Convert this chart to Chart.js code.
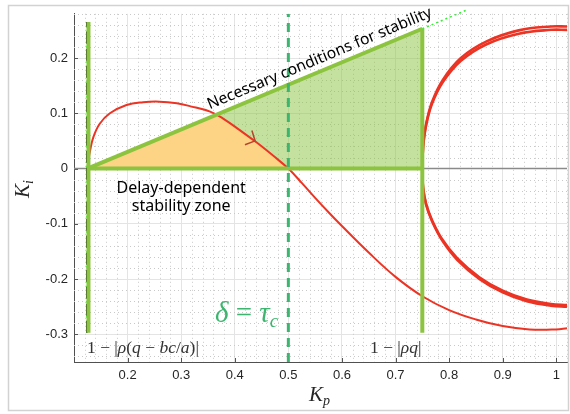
<!DOCTYPE html>
<html>
<head>
<meta charset="utf-8">
<script src="https://cdn.jsdelivr.net/npm/chart.js@4.4.1/dist/chart.umd.min.js"></script>
<style>
  html, body { margin: 0; padding: 0; background: #fff; }
  #wrap { width: 570px; height: 414px; position: relative; }
</style>
</head>
<body>
<div id="wrap"><canvas id="chart"></canvas></div>
<script>
// tick labels
const xTicks = [0.2, 0.3, 0.4, 0.5, 0.6, 0.7, 0.8, 0.9, 1];
const yTicks = [-0.3, -0.2, -0.1, 0, 0.1, 0.2];

// thin red curve (delay-dependent boundary)
const redThinX = [0.125, 0.127, 0.13, 0.136, 0.148, 0.167, 0.198, 0.229, 0.26, 0.292, 0.316, 0.354, 0.379, 0.41, 0.441, 0.472, 0.5, 0.525, 0.55, 0.575, 0.6, 0.65, 0.7, 0.75, 0.8, 0.85, 0.9, 0.95, 1.0, 1.02];
const redThinY = [0, 0.015, 0.032, 0.0565, 0.081, 0.1, 0.115, 0.12, 0.121, 0.118, 0.113, 0.103, 0.09, 0.069, 0.047, 0.023, 0, -0.026, -0.053, -0.079, -0.104, -0.152, -0.196, -0.231, -0.256, -0.273, -0.285, -0.291, -0.291, -0.289];

// thick red loop, drawn as two close strands
const loopUpperX = [0.75, 0.7515, 0.757, 0.768, 0.788, 0.822, 0.87, 0.93, 0.99, 1.02];
const loopUpperY1 = [0, 0.04, 0.08, 0.12, 0.16, 0.2, 0.23, 0.25, 0.257, 0.257];
const loopUpperY2 = [0, 0.039, 0.078, 0.117, 0.156, 0.195, 0.225, 0.244, 0.251, 0.251];
const loopLowerX = [0.75, 0.7515, 0.757, 0.768, 0.787, 0.815, 0.857, 0.9, 0.945, 0.99, 1.02];
const loopLowerY1 = [0, -0.035, -0.065, -0.095, -0.13, -0.165, -0.2, -0.224, -0.24, -0.248, -0.25];
const loopLowerY2 = [0, -0.035, -0.064, -0.093, -0.128, -0.162, -0.197, -0.221, -0.237, -0.245, -0.247];

// small direction arrow on the thin curve
const arrowX = [0.432, 0.438, 0.419];
const arrowY = [0.069, 0.05, 0.043];

// necessary-condition triangle
const slopeX = [0.125, 0.75];
const slopeY = [0, 0.253];
const baseX = [0.125, 0.75];
const baseY = [0, 0];
const slopeExtX = [0.75, 0.836];
const slopeExtY = [0.253, 0.288];

// vertical bounds
const leftX = 0.127, leftBlackX = 0.124;
const rightX = 0.75;
const vertY = [-0.297, 0.265];
const rightVertY = [-0.297, 0.253];
const tauX = 0.5;

const xMin = 0.1, xMax = 1.02, yMin = -0.35, yMax = 0.28;

const pts = (xs, ys) => xs.map((x, i) => ({ x, y: ys[i] }));
const loop = (lx, ly, ux, uy) => pts(lx, ly).slice(1).reverse().concat(pts(ux, uy));

// orange zone: under both the slope line and the red curve
const slopeAt = x => slopeY[0] + (slopeY[1] - slopeY[0]) * (x - slopeX[0]) / (slopeX[1] - slopeX[0]);
const orange = [{ x: slopeX[0], y: 0 }];
for (let i = 1; i < redThinX.length && redThinX[i] <= tauX; i++) {
  const d0 = redThinY[i - 1] - slopeAt(redThinX[i - 1]);
  const d1 = redThinY[i] - slopeAt(redThinX[i]);
  if (d0 > 0 && d1 <= 0) {
    const t = d0 / (d0 - d1);
    const ix = redThinX[i - 1] + t * (redThinX[i] - redThinX[i - 1]);
    orange.push({ x: ix, y: slopeAt(ix) });
  }
  if (d1 <= 0) orange.push({ x: redThinX[i], y: redThinY[i] });
}

const GREEN = '#8cc43f';
const RED = '#ec3424';
const TAU_GREEN = '#3cb56e';

const line = (data, opts) => Object.assign({
  data, showLine: true, pointRadius: 0, pointHoverRadius: 0, fill: false, tension: 0
}, opts);

const datasets = [
  line(pts(slopeX, slopeY), { borderColor: 'transparent', fill: 'origin', backgroundColor: 'rgba(140,196,63,0.5)', order: 20 }),
  line(orange, { borderColor: 'transparent', fill: 'origin', backgroundColor: '#fdd485', order: 19 }),
  line(pts([xMin, xMax], [0, 0]), { borderColor: '#8a8a8a', borderWidth: 1.5, order: 18 }),
  line(pts(redThinX, redThinY), { borderColor: RED, borderWidth: 2, tension: 0.4, order: 15 }),
  line(loop(loopLowerX, loopLowerY1, loopUpperX, loopUpperY1), { borderColor: RED, borderWidth: 2.6, tension: 0.4, order: 14 }),
  line(loop(loopLowerX, loopLowerY2, loopUpperX, loopUpperY2), { borderColor: RED, borderWidth: 2.6, tension: 0.4, order: 14 }),
  line(pts(arrowX, arrowY), { borderColor: '#b4462e', borderWidth: 1.5, order: 13 }),
  line(pts(baseX, baseY), { borderColor: GREEN, borderWidth: 4, order: 10 }),
  line(pts(slopeX, slopeY), { borderColor: GREEN, borderWidth: 4, order: 10 }),
  line(pts([leftBlackX, leftBlackX], vertY), { borderColor: '#33ee33', borderWidth: 1.5, borderDash: [2, 3], order: 9.5 }),
  line(pts([leftBlackX, leftBlackX], vertY), { borderColor: '#111', borderWidth: 1.5, borderDash: [12, 5], order: 9 }),
  line(pts([leftX, leftX], vertY), { borderColor: GREEN, borderWidth: 4, order: 8 }),
  line(pts([rightX, rightX], rightVertY), { borderColor: GREEN, borderWidth: 4, order: 8 }),
  line(pts(slopeExtX, slopeExtY), { borderColor: '#33ee33', borderWidth: 1.5, borderDash: [2, 3], clip: false, order: 8 }),
  line(pts([tauX, tauX], [yMin, yMax]), { borderColor: TAU_GREEN, borderWidth: 3, borderDash: [9, 6], order: 5 })
];

const serif = '"Liberation Serif", "DejaVu Serif", serif';
const sans = '"Noto Sans", "Open Sans", sans-serif';

// draw a run of [text, font, dy] pieces
function rich(ctx, pieces, x, y, align) {
  let w = 0;
  pieces.forEach(p => { ctx.font = p[1]; w += ctx.measureText(p[0]).width; });
  let cx = align === 'center' ? x - w / 2 : x;
  ctx.textAlign = 'left';
  pieces.forEach(p => {
    ctx.font = p[1];
    ctx.fillText(p[0], cx, y + (p[2] || 0));
    cx += ctx.measureText(p[0]).width;
  });
}

const decor = {
  id: 'decor',
  beforeDraw(chart) {
    const c = chart.ctx;
    c.save();
    c.fillStyle = '#fff';
    c.fillRect(0, 0, chart.width, chart.height);
    c.restore();
  },
  beforeDatasetsDraw(chart) {
    const c = chart.ctx, a = chart.chartArea;
    const sx = chart.scales.x, sy = chart.scales.y;
    c.save();
    c.strokeStyle = '#c9c9c9';
    c.lineWidth = 1;
    c.setLineDash([1, 3]);
    for (let i = 6; i <= 51; i++) {
      if (i % 5 === 0) continue;
      const px = Math.round(sx.getPixelForValue(i * 0.02)) + 0.5;
      c.beginPath(); c.moveTo(px, a.top); c.lineTo(px, a.bottom); c.stroke();
    }
    for (let i = -17; i <= 14; i++) {
      if (i % 5 === 0) continue;
      const py = Math.round(sy.getPixelForValue(i * 0.02)) + 0.5;
      c.beginPath(); c.moveTo(a.left, py); c.lineTo(a.right, py); c.stroke();
    }
    // inward ticks
    c.setLineDash([]);
    c.strokeStyle = '#555';
    xTicks.forEach(v => {
      const px = Math.round(sx.getPixelForValue(v)) + 0.5;
      c.beginPath(); c.moveTo(px, a.bottom); c.lineTo(px, a.bottom - 4); c.stroke();
    });
    yTicks.forEach(v => {
      const py = Math.round(sy.getPixelForValue(v)) + 0.5;
      c.beginPath(); c.moveTo(a.left, py); c.lineTo(a.left + 4, py); c.stroke();
    });
    c.restore();
  },
  afterDatasetsDraw(chart) {
    const c = chart.ctx;
    const sx = chart.scales.x, sy = chart.scales.y;
    const X = v => sx.getPixelForValue(v), Y = v => sy.getPixelForValue(v);
    c.save();
    c.textBaseline = 'alphabetic';

    // label along the slope line
    const ang = Math.atan2(Y(slopeY[1]) - Y(slopeY[0]), X(slopeX[1]) - X(slopeX[0]));
    const mx = 0.567;
    c.translate(X(mx), Y(slopeAt(mx)));
    c.rotate(ang);
    c.fillStyle = '#000';
    c.font = '15.6px ' + sans;
    c.textAlign = 'center';
    c.fillText('Necessary conditions for stability', 0, -7.5);
    c.setTransform(1, 0, 0, 1, 0, 0);

    c.font = '16px ' + sans;
    c.fillText('Delay-dependent', X(0.3), Y(-0.034) + 6);
    c.fillText('stability zone', X(0.3), Y(-0.0666) + 6);

    // delta = tau_c
    c.fillStyle = TAU_GREEN;
    rich(c, [
      ['δ', 'italic 29px ' + serif],
      [' = ', '29px ' + serif],
      ['τ', 'italic 29px ' + serif],
      ['c', 'italic 19px ' + serif, 5]
    ], X(0.422), Y(-0.262) + 9, 'center');

    // bound labels
    c.fillStyle = '#333';
    const up = '17.5px ' + serif, it = 'italic 17.5px ' + serif;
    rich(c, [
      ['1 − |', up], ['ρ', it], ['(', up], ['q', it], [' − ', up], ['bc', it], ['/', up], ['a', it], [')|', up]
    ], 87, Y(-0.324) + 5, 'left');
    rich(c, [
      ['1 − |', up], ['ρq', it], ['|', up]
    ], 370, Y(-0.324) + 5, 'left');

    // axis titles
    c.fillStyle = '#262626';
    rich(c, [['K', 'italic 21px ' + serif], ['p', 'italic 14px ' + serif, 4]], 309, 401, 'left');
    c.translate(29, 189);
    c.rotate(-Math.PI / 2);
    rich(c, [['K', 'italic 21px ' + serif], ['i', 'italic 14px ' + serif, 4]], 0, 0, 'center');
    c.restore();
  },
  afterDraw(chart) {
    const c = chart.ctx;
    c.save();
    c.strokeStyle = '#d2d2d2';
    c.lineWidth = 1.5;
    c.strokeRect(8.5, 5.5, 560, 405);
    c.restore();
  }
};

new Chart(document.getElementById('chart'), {
  type: 'scatter',
  data: { datasets },
  options: {
    responsive: true,
    maintainAspectRatio: false,
    devicePixelRatio: 1,
    animation: false,
    layout: { padding: { top: 13, right: 3, left: 0, bottom: 0 } },
    plugins: { legend: { display: false }, tooltip: { enabled: false } },
    scales: {
      x: {
        type: 'linear', min: xMin, max: xMax,
        afterBuildTicks: s => { s.ticks = xTicks.map(v => ({ value: v })); },
        afterFit: s => { s.height = 52; },
        ticks: {
          autoSkip: false, maxRotation: 0, padding: 6, color: '#262626',
          font: { family: '"Liberation Sans", Arial, sans-serif', size: 13 },
          callback: v => String(v)
        },
        grid: { color: '#e4e4e4', lineWidth: 1, drawTicks: false },
        border: { color: '#505050', width: 1 }
      },
      y: {
        type: 'linear', min: yMin, max: yMax,
        afterBuildTicks: s => { s.ticks = yTicks.map(v => ({ value: v })); },
        afterFit: s => { s.width = 74; },
        ticks: {
          autoSkip: false, padding: 6, color: '#262626',
          font: { family: '"Liberation Sans", Arial, sans-serif', size: 13 },
          callback: v => String(v)
        },
        grid: { color: '#e4e4e4', lineWidth: 1, drawTicks: false },
        border: { color: '#505050', width: 1 }
      }
    }
  },
  plugins: [decor]
});
</script>
</body>
</html>
